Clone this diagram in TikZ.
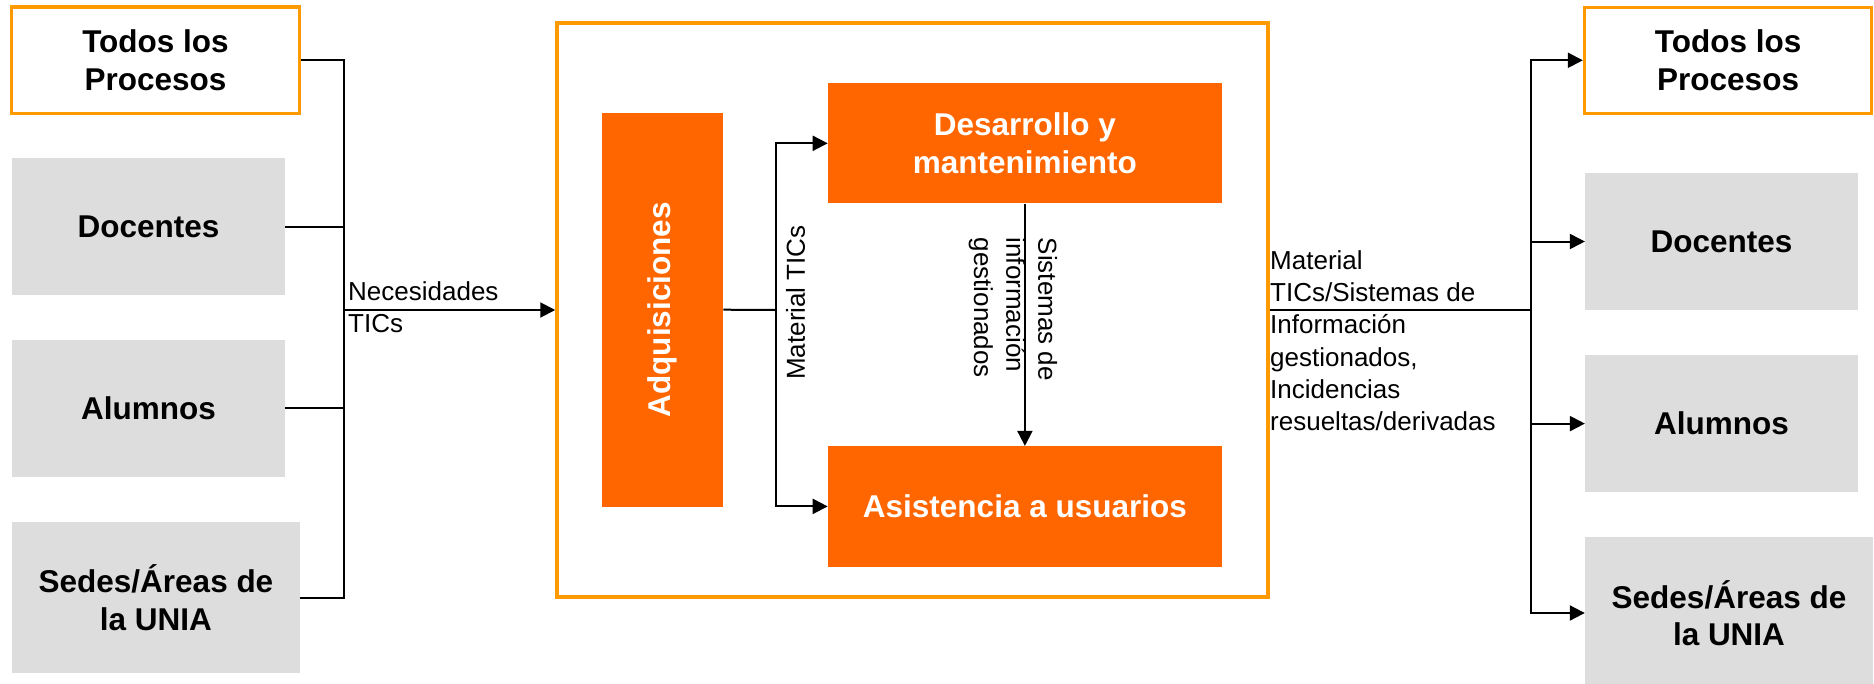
\documentclass[tikz,border=0pt]{standalone}
\usepackage{graphicx}
\usepackage{fontspec}
\setmainfont{Liberation Sans}
\usetikzlibrary{arrows.meta}
\definecolor{orfill}{HTML}{FF6600}
\definecolor{orline}{HTML}{FF9900}
\definecolor{grayfill}{HTML}{DDDDDD}
\begin{document}
\begin{tikzpicture}[x=1pt,y=-1pt,
  lbl/.style={font=\fontsize{26}{32.2}\selectfont, inner sep=0pt},
  boxbase/.style={rectangle, inner sep=0pt, align=center, font=\fontsize{31.5}{37.5}\selectfont\bfseries},
  outbox/.style={boxbase, draw=orline, line width=3.5pt, fill=white},
  graybox/.style={boxbase, fill=grayfill},
  orbox/.style={boxbase, fill=orfill, text=white},
  conn/.style={line width=2pt, draw=black},
  arr/.style={conn, -{Triangle[length=15pt,width=15pt]}},
]
\clip (0,0) rectangle (1874,683);
\fill[white] (0,0) rectangle (1874,683);

% left column
\node[outbox, minimum width=288, minimum height=106.5] (todosL) at (155.5,60.25) {Todos los\\Procesos};
\node[graybox, minimum width=273, minimum height=137] (docL) at (148.5,226.5) {Docentes};
\node[graybox, minimum width=273, minimum height=136.5] (aluL) at (148.5,408.4) {Alumnos};
\node[graybox, minimum width=288, minimum height=151] (sedL) at (156,597.5) {Sedes/Áreas de\\la UNIA};

% central block
\node[draw=orline, line width=3.5pt, minimum width=711, minimum height=574, inner sep=0pt] (main) at (912.5,310) {};
\node[orbox, minimum width=121.3, minimum height=393.8] (adq) at (662.5,309.7) {\rotatebox{90}{Adquisiciones}};
\node[orbox, minimum width=394, minimum height=120.2] (des) at (1024.9,143.3) {Desarrollo y\\mantenimiento};
\node[orbox, minimum width=394, minimum height=120.6] (asi) at (1024.9,506.4) {Asistencia a usuarios};

% right column
\node[outbox, minimum width=287, minimum height=106] (todosR) at (1728.1,60.3) {Todos los\\Procesos};
\node[graybox, minimum width=273, minimum height=137] (docR) at (1721.6,241.5) {Docentes};
\node[graybox, minimum width=273, minimum height=137] (aluR) at (1721.6,423.6) {Alumnos};
\node[graybox, minimum width=288, minimum height=152] (sedR) at (1729,613) {Sedes/Áreas de\\la UNIA};

% left connectors
\coordinate (busL) at (344,310);
\draw[conn] (todosL.east) -| (busL);
\draw[conn] (sedL.east) -| (busL);
\draw[conn] (docL.east) -- (docL.east -| busL);
\draw[conn] (aluL.east) -- (aluL.east -| busL);
\draw[arr] (busL) -- (main.west);

% inner connectors
\coordinate (busM) at (775.5,310);
\draw[conn] (adq.east) -- (busM);
\draw[arr] (busM) |- (des.west);
\draw[arr] (busM) |- (asi.west);
\draw[arr] (des.south) -- (asi.north);

% right connectors
\coordinate (busR) at (1531,310);
\draw[conn] (main.east) -- (busR);
\draw[arr] (busR) |- (todosR.west);
\draw[arr] (busR) |- (docR.west);
\draw[arr] (busR) |- (aluR.west);
\draw[arr] (busR) |- (sedR.west);

% labels
\node[lbl, anchor=west, align=left] (nec) at (348,307) {Necesidades\\TICs};
\node[lbl, rotate=90] (mat) at (795.5,302.5) {Material TICs};
\node[lbl, rotate=-90, anchor=north west, align=left] (sis) at (1057.5,237.5) {Sistemas de\\información\\gestionados};
\node[lbl, anchor=west, align=left] (outl) at (1270,340.6) {Material\\TICs/Sistemas de\\Información\\gestionados,\\Incidencias\\resueltas/derivadas};
\end{tikzpicture}
\end{document}
